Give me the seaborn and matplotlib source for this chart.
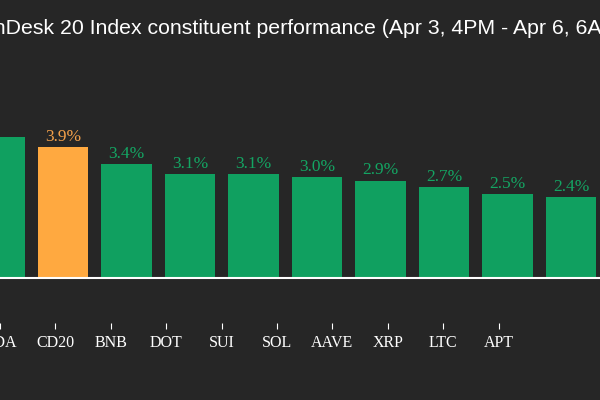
import pandas as pd
import matplotlib.pyplot as plt
import numpy as np
import seaborn as sns

# CoinDesk 20 constituents, % change Apr 3 4PM -> Apr 6 6AM ET (visible part of the chart)
simbolos = ['ADA', 'CD20', 'BNB', 'DOT', 'SUI', 'SOL', 'AAVE', 'XRP', 'LTC', 'APT']
variacao = [4.2, 3.9, 3.4, 3.1, 3.1, 3.0, 2.9, 2.7, 2.5, 2.4]
rotulos = ['4.2%', '3.9%', '3.4%', '3.1%', '3.1%', '3.0%', '2.9%', '2.7%', '2.5%', '2.4%']

fundo = '#262626'
verde = '#10A060'
laranja = '#FFA940'

dados = pd.DataFrame({'Simbolo': simbolos, 'Variacao': variacao})
cores = [laranja if s == 'CD20' else verde for s in simbolos]

sns.set_style('dark')
fig = plt.figure(figsize=(6, 4), dpi=100, facecolor=fundo)
ax = fig.add_axes([0, 0.1925, 1, 0.6575])
ax.set_facecolor(fundo)

sns.barplot(data=dados, x='Simbolo', y='Variacao', hue='Simbolo', palette=cores,
            width=0.8, saturation=1, legend=False, linewidth=0, edgecolor='none', ax=ax)

# the picture is a crop of a wider chart: bars run on a 63.5 px pitch, ticks on 55.4 px
passo_barra = 63.5
passo_tick = 55.4
ax.set_xlim(0.5 / passo_barra, 600.5 / passo_barra)
ax.set_ylim(-1.339, 6.488)

pos_ticks = (np.arange(len(simbolos)) * passo_tick + 0.5) / passo_barra
ax.set_xticks(pos_ticks, simbolos)
ax.tick_params(axis='x', direction='out', length=4.3, width=0.8, color='white',
               labelcolor='white', labelsize=11.5, pad=4, bottom=True)
for t in ax.get_xticklabels():
    t.set_fontfamily('Liberation Serif')
ax.set_yticks([])
ax.set_xlabel('')
ax.set_ylabel('')
for lado in ax.spines.values():
    lado.set_visible(False)
ax.grid(False)

# zero line
ax.axhline(0, color='white', lw=1.5)

# value labels
for barra, txt, s in zip(ax.patches, rotulos, simbolos):
    cor = '#F3A04A' if s == 'CD20' else '#14A563'
    ax.annotate(txt, (barra.get_x() + barra.get_width() / 2, barra.get_height()),
                xytext=(0, 1.5), textcoords='offset points', ha='center', va='bottom',
                color=cor, fontsize=12.5, fontfamily='Liberation Serif')

fig.text(-0.064, 0.93, 'CoinDesk 20 Index constituent performance (Apr 3, 4PM - Apr 6, 6AM ET)',
         color='white', fontsize=15.35, fontfamily='Liberation Sans', ha='left', va='center')

fig.savefig('out.png', dpi=100, facecolor=fundo)
